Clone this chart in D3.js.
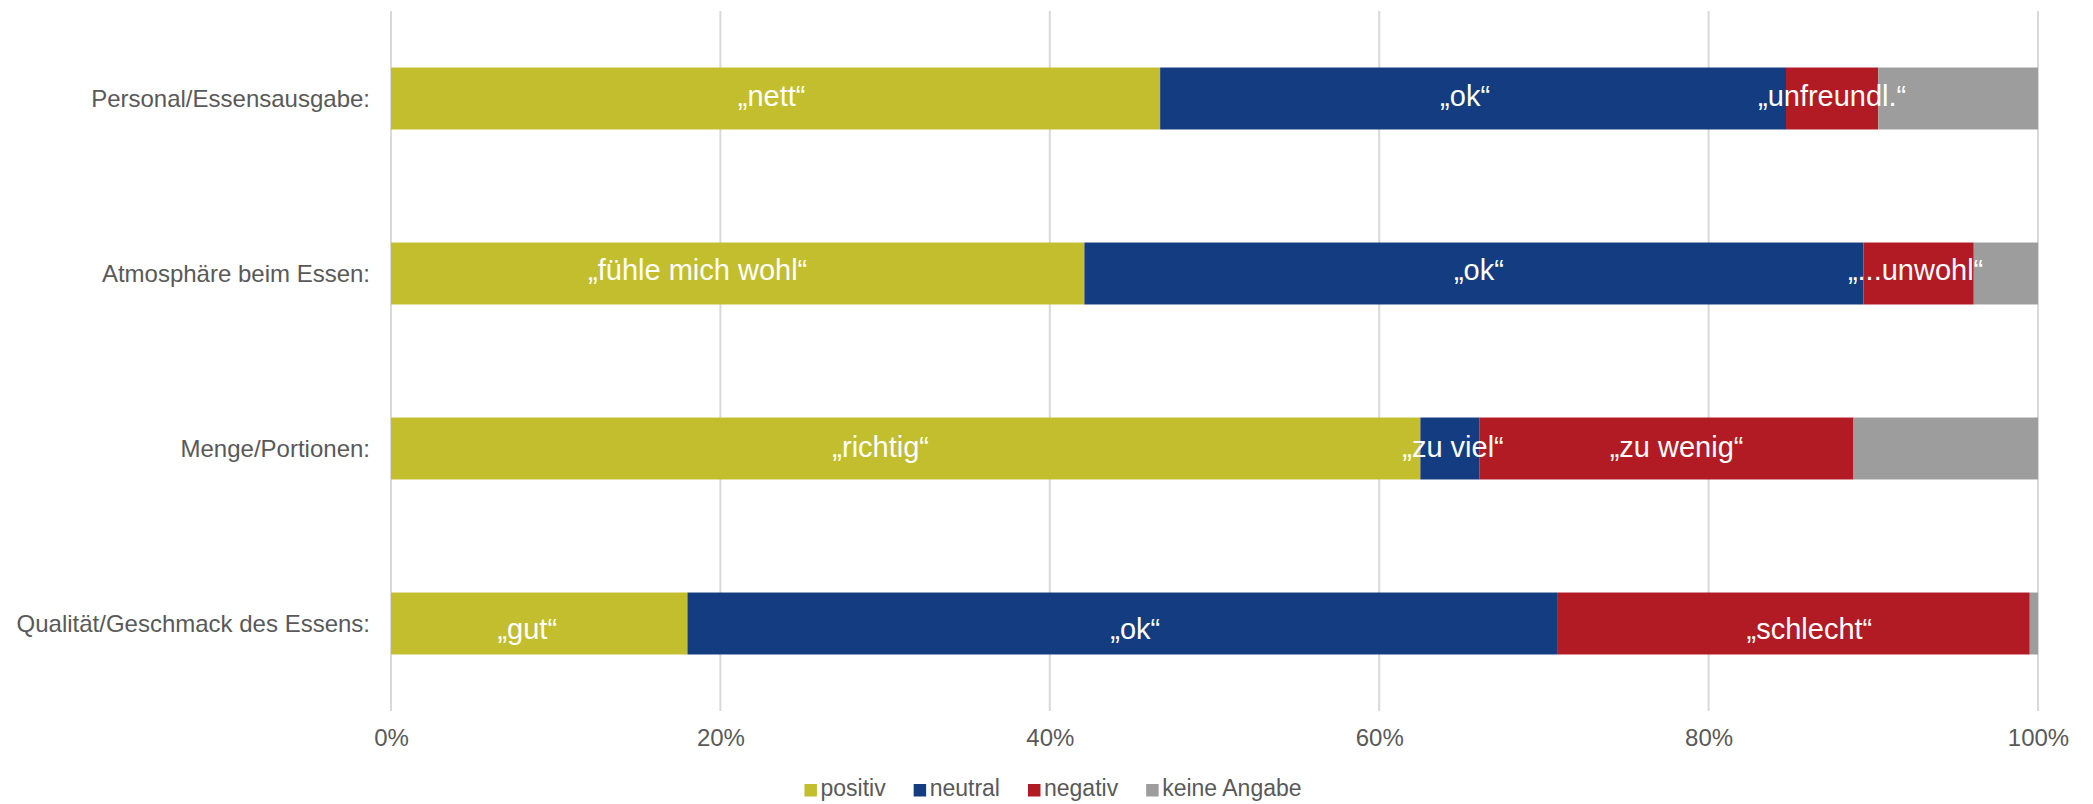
<!DOCTYPE html>
<html lang="de">
<head>
<meta charset="utf-8">
<title>Bewertung Mittagessen</title>
<script src="https://cdn.jsdelivr.net/npm/d3@7/dist/d3.min.js"></script>
<style>
  html, body { margin: 0; padding: 0; background: #ffffff; }
  svg { display: block; font-family: "Liberation Sans", Arial, Helvetica, sans-serif; }
</style>
</head>
<body>
<svg id="chart" width="2093" height="804"></svg>
<script>
// Survey answers, share of responses in percent
const categories = [
  "Personal/Essensausgabe:",
  "Atmosphäre beim Essen:",
  "Menge/Portionen:",
  "Qualität/Geschmack des Essens:"
];
const seriesNames = ["positiv", "neutral", "negativ", "keine Angabe"];
const positiv     = [46.7, 42.1, 62.5, 18.0];
const neutral     = [38.0, 47.3, 3.6, 52.8];
const negativ     = [5.6, 6.7, 22.7, 28.7];
const keineAngabe = [9.7, 3.9, 11.2, 0.5];

// Answer wording shown inside the segments (one list per series)
const positivText = ["„nett“", "„fühle mich wohl“", "„richtig“", "„gut“"];
const neutralText = ["„ok“", "„ok“", "„zu viel“", "„ok“"];
const negativText = ["„unfreundl.“", "„...unwohl“", "„zu wenig“", "„schlecht“"];

const tickValues = [0, 20, 40, 60, 80, 100];

// Styling
const colors = ["#C2BE2E", "#143C80", "#B21A24", "#9D9D9D"];
const textGray = "#595959";
const gridGray = "#D9D9D9";

// Small hand placement of the in-bar labels (pixels), per row and series
const labelShiftX = [[-4, -8, 0], [-40, 5, -3], [-25, 3, 10], [-12, 13, 16]];
const labelShiftY = [7, 6, 8, 15];

const svg = d3.select("#chart");
const plot = { left: 391, right: 2038, top: 11, bottom: 711 };

const x = d3.scaleLinear().domain([0, 100]).range([plot.left, plot.right]);
const y = d3.scaleBand().domain(categories)
  .range([plot.top, plot.bottom])
  .paddingInner(0.646).paddingOuter(0.323);

// Rows for the stack
const rows = categories.map((c, i) => ({
  category: c,
  "positiv": positiv[i],
  "neutral": neutral[i],
  "negativ": negativ[i],
  "keine Angabe": keineAngabe[i]
}));
const stacked = d3.stack().keys(seriesNames)(rows);

// Vertical gridlines
svg.append("g")
  .selectAll("line")
  .data(tickValues)
  .join("line")
  .attr("x1", d => x(d)).attr("x2", d => x(d))
  .attr("y1", plot.top).attr("y2", plot.bottom)
  .attr("stroke", gridGray)
  .attr("stroke-width", 2);

// Bar segments
svg.append("g")
  .selectAll("g")
  .data(stacked)
  .join("g")
  .attr("fill", (d, i) => colors[i])
  .selectAll("rect")
  .data(d => d)
  .join("rect")
  .attr("x", d => x(d[0]))
  .attr("width", d => x(d[1]) - x(d[0]))
  .attr("y", d => y(d.data.category))
  .attr("height", y.bandwidth());

// In-bar answer labels
const labelTexts = [positivText, neutralText, negativText];
const labelGroup = svg.append("g")
  .attr("fill", "#ffffff")
  .attr("font-size", 29)
  .attr("text-anchor", "middle");
labelTexts.forEach((texts, s) => {
  stacked[s].forEach((seg, r) => {
    labelGroup.append("text")
      .attr("x", (x(seg[0]) + x(seg[1])) / 2 + labelShiftX[r][s])
      .attr("y", y(categories[r]) + y.bandwidth() / 2 + labelShiftY[r])
      .text(texts[r]);
  });
});

// Category axis (left)
const yAxis = d3.axisLeft(y).tickSize(0).tickPadding(21);
const yG = svg.append("g")
  .attr("transform", `translate(${plot.left},0)`)
  .call(yAxis);
yG.select(".domain").remove();
yG.selectAll("text")
  .attr("fill", textGray)
  .attr("font-size", 24)
  .attr("font-family", "Liberation Sans, Arial, sans-serif")
  .attr("dy", null)
  .attr("dominant-baseline", null)
  .attr("y", 8);

// Percent axis (bottom)
const xAxis = d3.axisBottom(x).tickValues(tickValues)
  .tickFormat(d => d + "%").tickSize(0).tickPadding(0);
const xG = svg.append("g")
  .attr("transform", `translate(0,${plot.bottom})`)
  .call(xAxis);
xG.select(".domain").remove();
xG.selectAll("text")
  .attr("fill", textGray)
  .attr("font-size", 24)
  .attr("font-family", "Liberation Sans, Arial, sans-serif")
  .attr("dy", null)
  .attr("y", 35);

// Legend
const legend = svg.append("g").attr("font-size", 23).attr("fill", textGray);
const legendItems = legend.selectAll("g")
  .data(seriesNames)
  .join("g");
legendItems.append("rect")
  .attr("width", 12.5).attr("height", 12.5)
  .attr("y", 784)
  .attr("fill", (d, i) => colors[i]);
legendItems.append("text")
  .attr("x", 16)
  .attr("y", 796)
  .text(d => d);
let cursor = 0;
legendItems.each(function () {
  const g = d3.select(this);
  g.attr("transform", `translate(${cursor},0)`);
  cursor += 16 + g.select("text").node().getComputedTextLength() + 28;
});
const legendWidth = cursor - 28;
legend.attr("transform", `translate(${1053 - legendWidth / 2},0)`);
</script>
</body>
</html>
